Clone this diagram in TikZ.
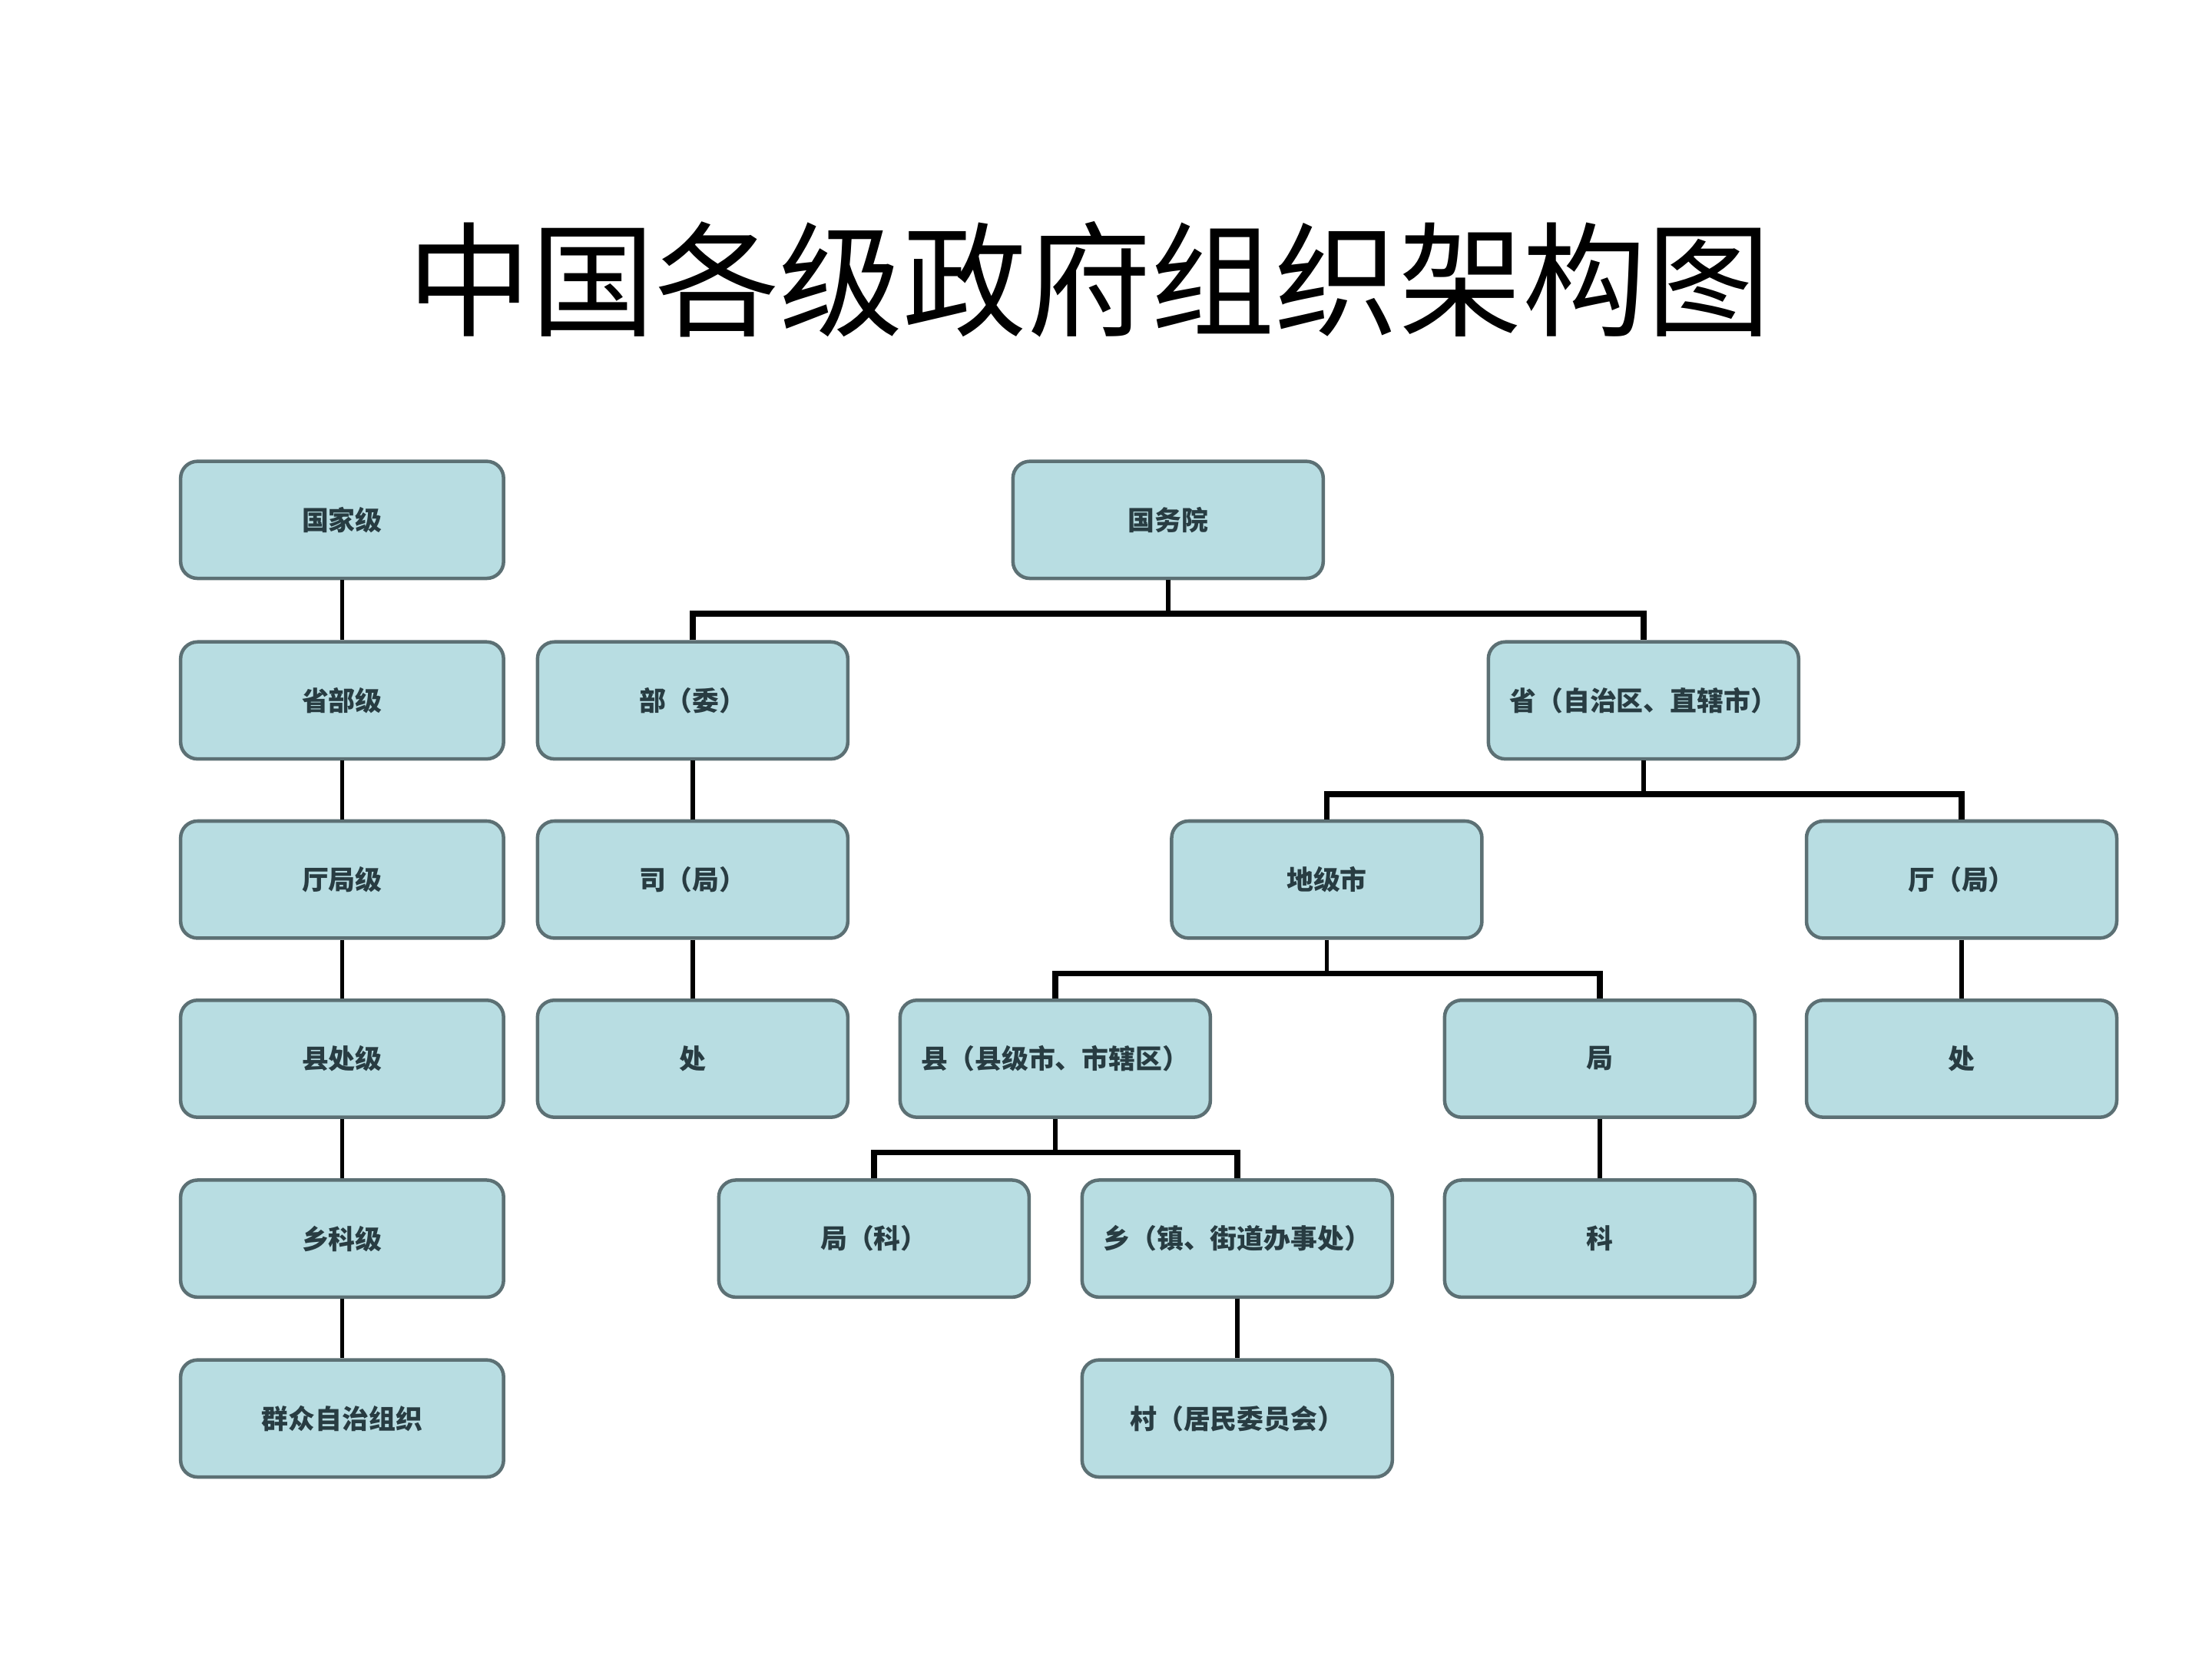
\documentclass[tikz,border=0pt]{standalone}
\usepackage{fontspec}
\newfontfamily\cjk{Noto Sans CJK SC}
\usetikzlibrary{calc}
\definecolor{boxfill}{RGB}{184,221,226}
\definecolor{boxedge}{RGB}{92,112,116}
\definecolor{boxtext}{RGB}{40,60,66}
\tikzset{
  orgbox/.style={draw=boxedge, fill=boxfill, line width=1.4pt, rounded corners=0.24cm,
    minimum width=4.4cm, minimum height=1.66cm, inner sep=0pt, align=center,
    font=\cjk\bfseries\fontsize{10.8pt}{12pt}\selectfont, text=boxtext},
  levelbox/.style={orgbox, minimum width=4.58cm},
  link/.style={draw=black, line width=1.7pt},
  buslink/.style={draw=black, line width=2.3pt}
}
\begin{document}
\begin{tikzpicture}[x=0.02cm,y=-0.02cm]
\useasboundingbox[fill=white] (0,0) rectangle (1568,1176);
% title
\node (title) at (772,198) {\cjk\fontsize{50pt}{54pt}\selectfont 中国各级政府组织架构图};
% left column
\node[levelbox] (l1) at (242.5,368.5) {国家级};
\node[levelbox] (l2) at (242.5,496.5) {省部级};
\node[levelbox] (l3) at (242.5,623.5) {厅局级};
\node[levelbox] (l4) at (242.5,750.5) {县处级};
\node[levelbox] (l5) at (242.5,878) {乡科级};
\node[levelbox] (l6) at (242.5,1005.5) {群众自治组织};
% tree
\node[orgbox] (gwy) at (828,368.5) {国务院};
\node[orgbox] (bw) at (491,496.5) {部（委）};
\node[orgbox] (sheng) at (1165,496.5) {省（自治区、直辖市）};
\node[orgbox] (sj) at (491,623.5) {司（局）};
\node[orgbox] (chu1) at (491,750.5) {处};
\node[orgbox] (djs) at (940.5,623.5) {地级市};
\node[orgbox] (tj) at (1390.5,623.5) {厅（局）};
\node[orgbox] (xian) at (748,750.5) {县（县级市、市辖区）};
\node[orgbox] (ju) at (1134,750.5) {局};
\node[orgbox] (chu2) at (1390.5,750.5) {处};
\node[orgbox] (juke) at (619.5,878) {局（科）};
\node[orgbox] (xiang) at (877,878) {乡（镇、街道办事处）};
\node[orgbox] (ke) at (1134,878) {科};
\node[orgbox] (cun) at (877,1005.5) {村（居民委员会）};
% junctions
\coordinate (j1) at (828,435);
\coordinate (j2) at (1165,563);
\coordinate (j3) at (940.5,690);
\coordinate (j4) at (748,817);
% left column links
\draw[link] (l1) -- (l2);
\draw[link] (l2) -- (l3);
\draw[link] (l3) -- (l4);
\draw[link] (l4) -- (l5);
\draw[link] (l5) -- (l6);
% tree links
\draw[link] (gwy.south) -- (j1);
\draw[buslink] (bw.north) |- (j1) -| (sheng.north);
\draw[link] (bw) -- (sj);
\draw[link] (sj) -- (chu1);
\draw[link] (sheng.south) -- (j2);
\draw[buslink] (djs.north) |- (j2) -| (tj.north);
\draw[link] (tj) -- (chu2);
\draw[link] (djs.south) -- (j3);
\draw[buslink] (xian.north) |- (j3) -| (ju.north);
\draw[link] (ju) -- (ke);
\draw[link] (xian.south) -- (j4);
\draw[buslink] (juke.north) |- (j4) -| (xiang.north);
\draw[link] (xiang) -- (cun);
\end{tikzpicture}
\end{document}
